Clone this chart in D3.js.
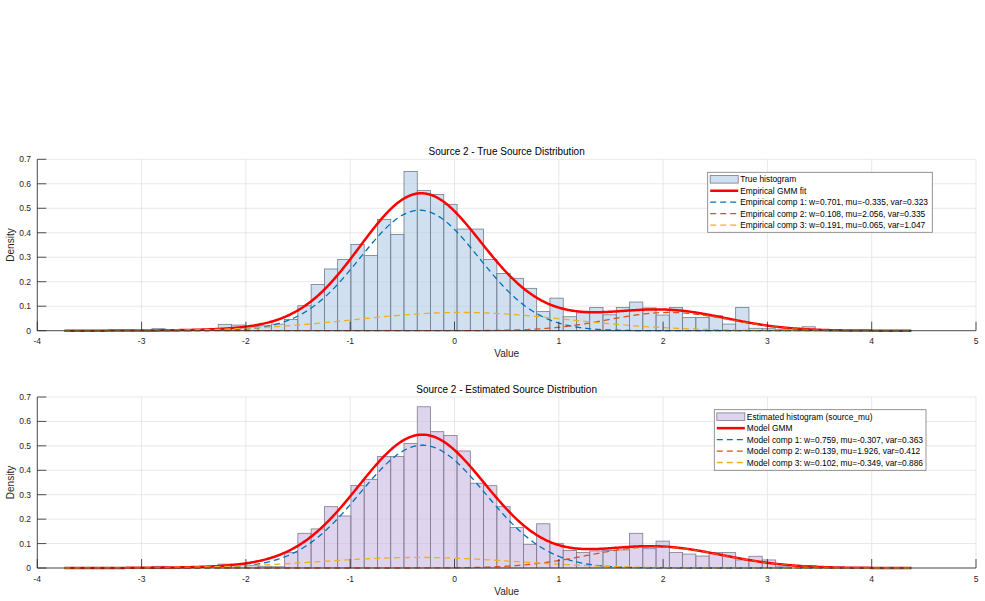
<!DOCTYPE html>
<html>
<head>
<meta charset="utf-8">
<script src="https://cdn.jsdelivr.net/npm/d3@7"></script>
<style>
  html, body { margin: 0; padding: 0; background: #fff; }
  svg { display: block; font-family: Arial, "Liberation Sans", Helvetica, sans-serif; }
</style>
</head>
<body>
<svg id="chart" width="985" height="601"></svg>
<script>
// ---------------- DATA ----------------
const xTicks = [-4, -3, -2, -1, 0, 1, 2, 3, 4, 5];
const yTicks = [0, 0.1, 0.2, 0.3, 0.4, 0.5, 0.6, 0.7];
const xTickLabels = ["-4", "-3", "-2", "-1", "0", "1", "2", "3", "4", "5"];
const yTickLabels = ["0", "0.1", "0.2", "0.3", "0.4", "0.5", "0.6", "0.7"];

// histogram bins (shared edges)
const binStart = -2.901;
const binWidth = 0.1272;

// True source histogram densities (50 bins)
const trueHist = [
  0.008, 0, 0, 0, 0, 0.026, 0.023, 0.016, 0.020, 0.027,
  0.046, 0.102, 0.189, 0.252, 0.291, 0.352, 0.307, 0.454, 0.393, 0.650,
  0.573, 0.556, 0.516, 0.415, 0.415, 0.291, 0.234, 0.214, 0.173, 0.078,
  0.133, 0.057, 0.073, 0.095, 0.065, 0.095, 0.117, 0.093, 0.064, 0.095,
  0.054, 0.054, 0.061, 0.027, 0.095, 0.010, 0.008, 0.004, 0, 0.016
];
// Estimated source histogram densities (50 bins)
const estHist = [
  0.007, 0, 0, 0, 0, 0.016, 0.016, 0.010, 0.007, 0.005,
  0.063, 0.142, 0.160, 0.251, 0.213, 0.338, 0.363, 0.456, 0.456, 0.510,
  0.660, 0.558, 0.542, 0.479, 0.347, 0.337, 0.251, 0.166, 0.097, 0.181,
  0.101, 0.072, 0.063, 0.070, 0.072, 0.074, 0.142, 0.079, 0.110, 0.064,
  0.057, 0.049, 0.063, 0.063, 0.033, 0.048, 0.033, 0.005, 0, 0.010
];

// GMM parameters (from legends)
const empW   = [0.701, 0.108, 0.191];
const empMu  = [-0.335, 2.056, 0.065];
const empVar = [0.323, 0.335, 1.047];
const modW   = [0.759, 0.139, 0.102];
const modMu  = [-0.307, 1.926, -0.349];
const modVar = [0.363, 0.412, 0.886];

const curveRange = [-3.74, 4.38];

const titles = ["Source 2 - True Source Distribution", "Source 2 - Estimated Source Distribution"];
const legendTop = ["True histogram", "Empirical GMM fit",
  "Empirical comp 1: w=0.701, mu=-0.335, var=0.323",
  "Empirical comp 2: w=0.108, mu=2.056, var=0.335",
  "Empirical comp 3: w=0.191, mu=0.065, var=1.047"];
const legendBot = ["Estimated histogram (source_mu)", "Model GMM",
  "Model comp 1: w=0.759, mu=-0.307, var=0.363",
  "Model comp 2: w=0.139, mu=1.926, var=0.412",
  "Model comp 3: w=0.102, mu=-0.349, var=0.886"];

// ---------------- DRAW ----------------
const svg = d3.select("#chart");
const compColors = ["#0072bd", "#d95319", "#edb120"];

function pdf(x, mu, v) { return Math.exp(-(x - mu) * (x - mu) / (2 * v)) / Math.sqrt(2 * Math.PI * v); }

const panels = [
  { top: 159.3, bottom: 330.7, hist: trueHist, fill: "rgb(179,204,230)", edge: "#6f7d8c",
    w: empW, mu: empMu, v: empVar, title: titles[0], legend: legendTop,
    lg: { x: 707.7, y: 172.3, w: 224.6, h: 60 } },
  { top: 397, bottom: 568, hist: estHist, fill: "rgb(202,184,226)", edge: "#7f7a8c",
    w: modW, mu: modMu, v: modVar, title: titles[1], legend: legendBot,
    lg: { x: 714.3, y: 409.7, w: 211.7, h: 60.6 } }
];

const x = d3.scaleLinear().domain([-4, 5]).range([37.3, 976]);
const xs = d3.range(curveRange[0], curveRange[1] + 1e-9, 0.01);

panels.forEach(p => {
  const y = d3.scaleLinear().domain([0, 0.7]).range([p.bottom, p.top]);
  const g = svg.append("g");

  // grid
  g.selectAll(".gx").data(xTicks).enter().append("line")
    .attr("x1", d => x(d)).attr("x2", d => x(d))
    .attr("y1", p.top).attr("y2", p.bottom)
    .attr("stroke", "#e2e2e2").attr("stroke-width", 0.8);
  g.selectAll(".gy").data(yTicks).enter().append("line")
    .attr("x1", x(-4)).attr("x2", x(5))
    .attr("y1", d => y(d)).attr("y2", d => y(d))
    .attr("stroke", "#e2e2e2").attr("stroke-width", 0.8);

  // histogram
  g.selectAll(".bar").data(p.hist).enter().append("rect")
    .attr("x", (d, i) => x(binStart + i * binWidth))
    .attr("width", (d, i) => x(binStart + (i + 1) * binWidth) - x(binStart + i * binWidth))
    .attr("y", d => y(d))
    .attr("height", d => p.bottom - y(d))
    .attr("fill", p.fill).attr("fill-opacity", 0.6)
    .attr("stroke", p.edge).attr("stroke-width", 0.8)
    .attr("display", d => d > 0 ? null : "none");

  const line = d3.line().x(d => x(d[0])).y(d => y(d[1]));
  // total GMM
  const tot = xs.map(t => [t, d3.sum(p.w.map((w, k) => w * pdf(t, p.mu[k], p.v[k])))]);
  g.append("path").attr("d", line(tot)).attr("fill", "none")
    .attr("stroke", "#ff0000").attr("stroke-width", 2.5);
  // components
  p.w.forEach((w, k) => {
    const c = xs.map(t => [t, w * pdf(t, p.mu[k], p.v[k])]);
    g.append("path").attr("d", line(c)).attr("fill", "none")
      .attr("stroke", compColors[k]).attr("stroke-width", 1.3)
      .attr("stroke-dasharray", "6,4");
  });

  // axes lines
  g.append("line").attr("x1", x(-4)).attr("x2", x(5)).attr("y1", p.bottom).attr("y2", p.bottom)
    .attr("stroke", "#262626").attr("stroke-width", 0.8);
  g.append("line").attr("x1", x(-4)).attr("x2", x(-4)).attr("y1", p.bottom).attr("y2", p.top)
    .attr("stroke", "#262626").attr("stroke-width", 0.8);
  // ticks (inward)
  g.selectAll(".tx").data(xTicks).enter().append("line")
    .attr("x1", d => x(d)).attr("x2", d => x(d))
    .attr("y1", p.bottom).attr("y2", p.bottom - 9)
    .attr("stroke", "#262626").attr("stroke-width", 0.8);
  g.selectAll(".ty").data(yTicks).enter().append("line")
    .attr("x1", x(-4)).attr("x2", x(-4) + 9)
    .attr("y1", d => y(d)).attr("y2", d => y(d))
    .attr("stroke", "#262626").attr("stroke-width", 0.8);

  // tick labels
  g.selectAll(".lx").data(xTicks).enter().append("text")
    .attr("x", d => x(d)).attr("y", p.bottom + 13.5)
    .attr("text-anchor", "middle").attr("font-size", 8.5).attr("fill", "#262626")
    .text((d, i) => xTickLabels[i]);
  g.selectAll(".ly").data(yTicks).enter().append("text")
    .attr("x", 31).attr("y", d => y(d) + 3)
    .attr("text-anchor", "end").attr("font-size", 8.5).attr("fill", "#262626")
    .text((d, i) => yTickLabels[i]);

  // axis labels & title
  g.append("text").attr("x", (x(-4) + x(5)) / 2).attr("y", p.bottom + 26.5)
    .attr("text-anchor", "middle").attr("font-size", 10).attr("fill", "#262626").text("Value");
  g.append("text").attr("transform", `translate(14,${(p.top + p.bottom) / 2}) rotate(-90)`)
    .attr("text-anchor", "middle").attr("font-size", 10).attr("fill", "#262626").text("Density");
  g.append("text").attr("x", (x(-4) + x(5)) / 2).attr("y", p.top - 4.3)
    .attr("text-anchor", "middle").attr("font-size", 10).attr("fill", "#000").text(p.title);

  // legend
  const L = p.lg;
  const lg = g.append("g");
  lg.append("rect").attr("x", L.x).attr("y", L.y).attr("width", L.w).attr("height", L.h)
    .attr("fill", "#fff").attr("stroke", "#7a7a7a").attr("stroke-width", 0.8);
  p.legend.forEach((txt, i) => {
    const cy = L.y + 7 + i * 11.45;
    const sx0 = L.x + 2.5, sx1 = L.x + 30.5;
    if (i === 0) {
      lg.append("rect").attr("x", sx0).attr("y", cy - 3.8).attr("width", sx1 - sx0).attr("height", 7.6)
        .attr("fill", p.fill).attr("fill-opacity", 0.6).attr("stroke", p.edge).attr("stroke-width", 0.8);
    } else if (i === 1) {
      lg.append("line").attr("x1", sx0).attr("x2", sx1).attr("y1", cy).attr("y2", cy)
        .attr("stroke", "#ff0000").attr("stroke-width", 2.5);
    } else {
      lg.append("line").attr("x1", sx0).attr("x2", sx1).attr("y1", cy).attr("y2", cy)
        .attr("stroke", compColors[i - 2]).attr("stroke-width", 1.3).attr("stroke-dasharray", "6,4");
    }
    lg.append("text").attr("x", L.x + 32.5).attr("y", cy + 3).attr("font-size", 8.4)
      .attr("fill", "#000").text(txt);
  });
});
</script>
</body>
</html>
